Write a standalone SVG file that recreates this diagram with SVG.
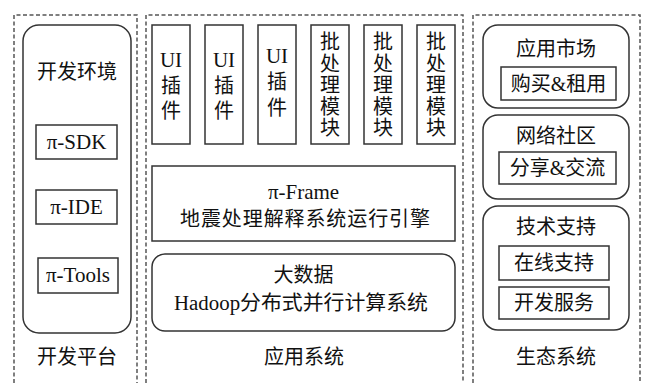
<svg xmlns="http://www.w3.org/2000/svg" width="645" height="383" viewBox="0 0 645 383">
<style>
.panel{fill:none;stroke:#555;stroke-width:1.5;stroke-dasharray:4 2.5}
.box{fill:#fff;stroke:#333;stroke-width:1.5}
.t{font-family:"Liberation Serif","Noto Sans CJK SC",serif;font-size:20px;fill:#111;text-anchor:middle;dominant-baseline:central}
.l{font-size:21px}
</style>
<rect width="645" height="383" fill="#fff"/>
<g id="panels">
<path class="panel" d="M14,383 V15 H137 V383"/>
<path class="panel" d="M146,383 V15 H463 V383"/>
<path class="panel" d="M473,383 V15 H640 V383"/>
</g>
<g id="dev-platform">
<rect class="box" x="23" y="25" width="108" height="308" rx="16"/>
<text class="t" x="77" y="72">开发环境</text>
<text class="t" x="77" y="357">开发平台</text>
</g>
<g id="sdk"><rect class="box" x="36" y="125" width="81" height="34"/><text class="t l" x="76.5" y="142">π-SDK</text></g>
<g id="ide"><rect class="box" x="36" y="190" width="81" height="34"/><text class="t l" x="76.5" y="207">π-IDE</text></g>
<g id="tools"><rect class="box" x="38" y="258" width="80" height="35"/><text class="t l" x="78" y="275">π-Tools</text></g>
<g id="ui1"><rect class="box" x="152" y="25" width="38" height="119"/><text class="t l" x="171" y="60">UI</text><text class="t" x="171" y="86">插</text><text class="t" x="171" y="111">件</text></g>
<g id="ui2"><rect class="box" x="205" y="25" width="38" height="119"/><text class="t l" x="224" y="60">UI</text><text class="t" x="224" y="86">插</text><text class="t" x="224" y="111">件</text></g>
<g id="ui3"><rect class="box" x="258" y="25" width="38" height="119"/><text class="t l" x="277" y="56">UI</text><text class="t" x="277" y="82">插</text><text class="t" x="277" y="108">件</text></g>
<g id="batch1"><rect class="box" x="311" y="25" width="38" height="119"/><text class="t" x="330" y="42">批</text><text class="t" x="330" y="63.5">处</text><text class="t" x="330" y="85">理</text><text class="t" x="330" y="106.5">模</text><text class="t" x="330" y="128">块</text></g>
<g id="batch2"><rect class="box" x="364" y="25" width="38" height="119"/><text class="t" x="383" y="42">批</text><text class="t" x="383" y="63.5">处</text><text class="t" x="383" y="85">理</text><text class="t" x="383" y="106.5">模</text><text class="t" x="383" y="128">块</text></g>
<g id="batch3"><rect class="box" x="417" y="25" width="38" height="119"/><text class="t" x="436" y="42">批</text><text class="t" x="436" y="63.5">处</text><text class="t" x="436" y="85">理</text><text class="t" x="436" y="106.5">模</text><text class="t" x="436" y="128">块</text></g>
<g id="frame"><rect class="box" x="152" y="166" width="303" height="75"/><text class="t l" x="303.5" y="192">π-Frame</text><text class="t" x="305" y="219" textLength="250" lengthAdjust="spacing">地震处理解释系统运行引擎</text></g>
<g id="bigdata"><rect class="box" x="152" y="254" width="303" height="77" rx="13"/><text class="t" x="303.5" y="275">大数据</text><text class="t" x="301" y="303" textLength="254" lengthAdjust="spacingAndGlyphs">Hadoop分布式并行计算系统</text></g>
<text class="t" x="304" y="357">应用系统</text>
<g id="market"><rect class="box" x="483" y="25" width="146" height="83" rx="15"/><text class="t" x="556" y="49">应用市场</text><rect class="box" x="501" y="67" width="115" height="33"/><text class="t" x="558.5" y="83.5">购买&amp;租用</text></g>
<g id="community"><rect class="box" x="483" y="115" width="146" height="84" rx="15"/><text class="t" x="556" y="136">网络社区</text><rect class="box" x="499" y="152" width="117" height="32"/><text class="t" x="557.5" y="168">分享&amp;交流</text></g>
<g id="support"><rect class="box" x="483" y="206" width="146" height="124" rx="15"/><text class="t" x="556" y="227">技术支持</text><rect class="box" x="499" y="246" width="110" height="34"/><text class="t" x="554" y="263">在线支持</text><rect class="box" x="499" y="287" width="110" height="32"/><text class="t" x="554" y="303">开发服务</text></g>
<text class="t" x="556" y="357">生态系统</text>
</svg>
